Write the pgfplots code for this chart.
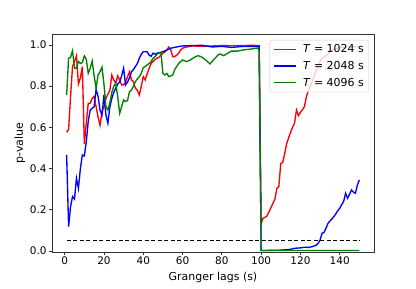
\documentclass[border=0pt]{standalone}
\usepackage{fontspec}
\setmainfont{DejaVu Sans}
\usepackage{pgfplots}
\pgfplotsset{compat=1.18}
\definecolor{mplgreen}{rgb}{0,0.5,0}
\begin{document}
\begin{tikzpicture}
\useasboundingbox (-52bp,-37bp) rectangle (364bp,252bp);
\begin{axis}[
  at={(0,0)}, anchor=south west,
  scale only axis, width=322bp, height=218bp,
  xmin=-6.45, xmax=157.45, ymin=-0.005, ymax=1.053,
  xtick={0,20,...,140}, ytick={0,0.2,0.4,0.6,0.8,1.0},
  yticklabel style={inner sep=2bp, /pgf/number format/.cd, fixed, fixed zerofill, precision=1},
  /pgf/number format/assume math mode=true,
  tick align=outside, tick pos=left,
  major tick length=3.2bp,
  every tick/.style={black!80, line width=0.7bp},
  axis line style={black!80, line width=0.7bp},
  ticklabel style={font=\fontsize{10.5}{12}\selectfont},
  xticklabel style={inner sep=1bp},
  xlabel={Granger lags (s)}, ylabel={p-value},
  label style={font=\fontsize{11}{13}\selectfont},
  xlabel style={at={(axis description cs:0.5,0)}, anchor=base, yshift=-28bp},
  ylabel style={at={(axis description cs:0,0.5)}, anchor=base, yshift=29bp},
  legend style={at={(1,1)}, anchor=north east, xshift=-5bp, yshift=-6bp,
    draw=black!20, fill=white, fill opacity=0.8, text opacity=1, draw opacity=1,
    rounded corners=2bp, font=\fontsize{11}{13}\selectfont,
    inner xsep=3bp, inner ysep=2.5bp, row sep=3bp},
  legend cell align=left,
  legend image code/.code={\draw[#1] (0bp,0bp) -- (22bp,0bp); \path (27bp,0bp);},
  every axis plot/.append style={line width=1.35bp},
]
\addplot[red] coordinates {
(1,0.576)(2,0.59)(3,0.75)(4,0.895)(5,0.92)(6,0.947)(7,0.81)(8,0.84)(9,0.895)(10,0.52)
(11,0.62)(12,0.717)(13,0.717)(14,0.74)(15,0.75)(16,0.70)(17,0.65)(18,0.61)(19,0.676)(20,0.70)
(21,0.741)(22,0.76)(23,0.78)(24,0.854)(25,0.83)(26,0.814)(27,0.85)(28,0.83)(29,0.806)(30,0.806)
(31,0.82)(32,0.846)(33,0.87)(34,0.83)(35,0.822)(36,0.79)(37,0.78)(38,0.757)(39,0.80)(40,0.846)
(41,0.83)(42,0.86)(43,0.887)(44,0.91)(45,0.919)(46,0.93)(47,0.935)(48,0.94)(49,0.95)(50,0.96)
(51,0.965)(52,0.976)(53,0.99)(54,0.976)(55,0.943)(56,0.943)(57,0.95)(58,0.96)(59,0.975)(60,0.984)
(62,0.99)(65,0.995)(70,0.993)(75,0.995)(80,0.997)(85,0.996)(90,0.997)(95,0.998)(99,0.997)
(100,0.134)(101,0.159)(102,0.163)(103,0.17)(104,0.19)(105,0.21)(106,0.231)(107,0.25)(108,0.304)(109,0.312)
(110,0.425)(111,0.429)(112,0.474)(113,0.52)(114,0.55)(115,0.576)(116,0.60)(117,0.62)(118,0.684)(119,0.657)
(120,0.673)(121,0.685)(122,0.70)(123,0.746)(124,0.778)(125,0.80)(126,0.82)(127,0.85)(128,0.875)(129,0.895)
(130,0.92)(131,0.935)(132,0.94)(133,0.948)(134,0.955)(135,0.97)(136,0.975)(138,0.98)(140,0.988)(143,0.99)
(146,0.99)(150,0.992)
};
\addlegendentry{\textit{T} = 1024 s}
\addplot[blue] coordinates {
(1,0.466)(2,0.118)(3,0.215)(4,0.264)(5,0.252)(6,0.353)(7,0.304)(8,0.40)(9,0.466)(10,0.461)
(11,0.53)(12,0.63)(13,0.684)(14,0.693)(15,0.70)(16,0.785)(17,0.75)(18,0.684)(19,0.66)(20,0.757)
(21,0.66)(22,0.62)(23,0.70)(24,0.74)(25,0.77)(26,0.79)(27,0.81)(28,0.82)(29,0.85)(30,0.887)
(31,0.806)(32,0.82)(33,0.84)(34,0.87)(35,0.88)(36,0.895)(37,0.91)(38,0.935)(39,0.955)(40,0.967)
(41,0.967)(42,0.967)(43,0.95)(44,0.945)(45,0.96)(46,0.955)(47,0.96)(48,0.962)(50,0.967)(52,0.975)
(54,0.984)(56,0.988)(58,0.992)(60,0.995)(65,0.997)(70,0.998)(75,0.99)(80,0.993)(85,0.988)(90,0.992)
(95,0.993)(99,0.993)
(100,0.002)(105,0.003)(110,0.004)(115,0.008)(117,0.013)(120,0.015)(122,0.018)(124,0.017)(126,0.021)(128,0.028)
(129,0.037)(130,0.053)(131,0.086)(132,0.09)(133,0.11)(134,0.134)(135,0.145)(136,0.155)(137,0.167)(138,0.18)
(139,0.195)(140,0.207)(141,0.225)(142,0.24)(143,0.28)(144,0.256)(145,0.275)(146,0.296)(147,0.285)(148,0.28)
(149,0.32)(150,0.345)
};
\addlegendentry{\textit{T} = 2048 s}
\addplot[mplgreen] coordinates {
(1,0.757)(2,0.935)(3,0.94)(4,0.972)(5,0.887)(6,0.887)(7,0.92)(8,0.91)(9,0.915)(10,0.947)
(11,0.93)(12,0.862)(13,0.887)(14,0.922)(15,0.85)(16,0.79)(17,0.854)(18,0.87)(19,0.892)(20,0.81)
(21,0.70)(22,0.684)(23,0.72)(24,0.77)(25,0.80)(26,0.814)(27,0.749)(28,0.668)(29,0.70)(30,0.733)
(31,0.725)(32,0.73)(33,0.773)(34,0.78)(35,0.80)(36,0.822)(37,0.835)(38,0.846)(39,0.862)(40,0.89)
(41,0.895)(42,0.903)(43,0.91)(44,0.919)(45,0.935)(46,0.943)(47,0.955)(48,0.96)(49,0.963)(50,0.862)
(51,0.854)(52,0.862)(53,0.846)(54,0.85)(55,0.854)(56,0.88)(57,0.895)(58,0.91)(59,0.919)(60,0.927)
(62,0.919)(64,0.927)(66,0.94)(68,0.948)(70,0.94)(72,0.925)(74,0.908)(76,0.93)(78,0.95)(79,0.956)
(81,0.948)(83,0.96)(85,0.97)(88,0.97)(91,0.976)(95,0.98)(98,0.985)(99,0.975)
(100,0.002)(150,0.002)
};
\addlegendentry{\textit{T} = 4096 s}
\addplot[black, line width=1.35bp, dash pattern=on 4bp off 2.5bp, forget plot] coordinates {(1,0.05)(150,0.05)};
\end{axis}
\end{tikzpicture}
\end{document}
